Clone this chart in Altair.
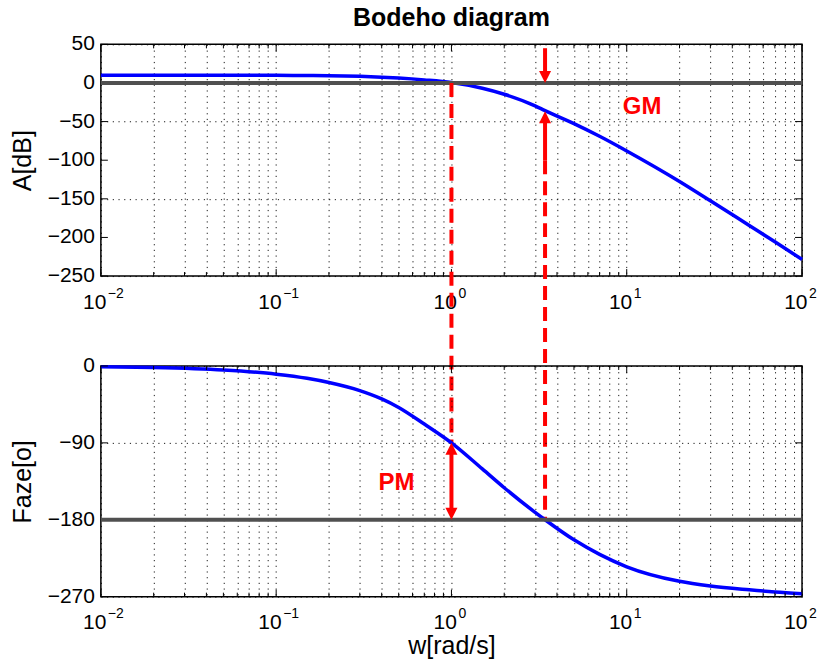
import altair as alt
import pandas as pd

# ---------------- data ----------------
FREQ = [0.01, 0.02, 0.05, 0.1, 0.15, 0.2, 0.3, 0.4, 0.5, 0.7, 1.0, 1.5, 2.0, 3.0, 3.42,
        5.0, 7.0, 10.0, 20.0, 30.0, 50.0, 70.0, 100.0]
MAG_DB = [10.0, 10.0, 10.0, 9.9, 9.7, 9.5, 8.6, 7.5, 6.3, 3.9, 0.5, -6.8, -14.6, -29.6, -35.8,
          -52.6, -69.0, -88.0, -127.5, -152.5, -184.5, -205.6, -228.5]
PHASE_DEG = [-1.0, -1.9, -4.8, -9.6, -14.4, -19.3, -28.8, -38.5, -48.5, -68.0, -90.0, -120.5,
             -142.5, -171.3, -180.0, -203.5, -220.5, -235.0, -252.0, -257.5, -262.0, -264.5, -266.5]

MAJOR_W = [0.01, 0.1, 1.0, 10.0, 100.0]
EXPONENTS = ["\u22122", "\u22121", "0", "1", "2"]
MINOR_W = [round(m * d, 6) for d in [0.01, 0.1, 1, 10] for m in range(2, 10)]
GRID_W = sorted(MAJOR_W + MINOR_W)
MAG_TICKS = [-250, -200, -150, -100, -50, 0, 50]
PHASE_TICKS = [-270, -180, -90, 0]

TITLE = "Bodeho diagram"
W_GC = 1.0          # gain crossover
W_PC = 3.42         # phase crossover
GM_DB = -36.5       # magnitude at phase crossover
PM_PHASE = -90.0    # phase at gain crossover
GM_TOP_DB = 45.0    # start of upper GM arrow
GM_LOW_DB = -100.0  # start of lower GM arrow
GM_LABEL = (12.25, -30.8)
PM_LABEL = (0.486, -136.5)

# ---------------- layout ----------------
FONT = "Liberation Sans"
W, H1, H2, GAP = 702, 232, 231, 90
HEAD_PX = 10
MAJOR_LEN, MINOR_LEN = 7, 4


def top_db_from_px(px):
    return 50 - px / H1 * 300


def px_of_phase(ph):
    return H1 + GAP + (0 - ph) / 270 * H2


head_db = HEAD_PX * 300 / H1
head_deg = HEAD_PX * 270 / H2

xs = alt.Scale(type="log", domain=[0.01, 100], nice=False)
ys_top = alt.Scale(domain=[-250, 50], nice=False, zero=False)
ys_bot = alt.Scale(domain=[-270, 0], nice=False, zero=False)

grid_style = dict(grid=True, gridColor="black", gridDash=[1.2, 4.5], gridOpacity=0.9, gridWidth=1)


def x_axis(title=None):
    kw = dict(values=GRID_W,
              labelExpr="indexof([0.01,0.1,1,10,100], datum.value) >= 0 ? '10' : ''",
              labelAlign="right", labelOffset=5, labelFlush=False, labelOverlap=False,
              labelPadding=15, labelFontSize=21, ticks=False, domain=False, **grid_style)
    if title:
        kw.update(title=title, titleFontSize=25, titleFontWeight="normal",
                  titleBaseline="alphabetic", titleY=57, titleX=W / 2, titleAlign="center")
    else:
        kw.update(title=None)
    return alt.Axis(**kw)


def y_axis(title, values, h):
    return alt.Axis(values=values, labels=False, ticks=False, domain=False,
                    title=title, titleFontSize=25, titleFontWeight="normal",
                    titleBaseline="alphabetic", titleX=-70, titleY=h / 2, titleAlign="center",
                    **grid_style)


def y_labels(ys, yticks):
    d = pd.DataFrame({"v": yticks, "lab": [str(v).replace("-", "\u2212") for v in yticks]})
    return alt.Chart(d).mark_text(align="right", baseline="middle", dx=-6, fontSize=21,
                                  font=FONT, color="black").encode(
        x=alt.value(0), y=alt.Y("v:Q", scale=ys), text="lab:N")


def inner_ticks(ys, yticks, h):
    """Matlab-style inward ticks on all four sides."""
    layers = []
    for vals, ln in ((MAJOR_W, MAJOR_LEN), (MINOR_W, MINOR_LEN)):
        d = pd.DataFrame({"w": vals})
        for y0, y1 in ((0, ln), (h, h - ln)):
            layers.append(alt.Chart(d).mark_rule(color="black", strokeWidth=1).encode(
                x=alt.X("w:Q", scale=xs), y=alt.value(y0), y2=alt.value(y1)))
    d = pd.DataFrame({"v": yticks})
    for x0, x1 in ((0, MAJOR_LEN), (W, W - MAJOR_LEN)):
        layers.append(alt.Chart(d).mark_rule(color="black", strokeWidth=1).encode(
            y=alt.Y("v:Q", scale=ys), x=alt.value(x0), x2=alt.value(x1)))
    return layers


curve = pd.DataFrame({"w": FREQ, "mag": MAG_DB, "phase": PHASE_DEG})
expo = pd.DataFrame({"w": MAJOR_W, "e": EXPONENTS})
shape_scale = alt.Scale(domain=["down", "up"], range=["M0,0L-1,-2L1,-2Z", "M0,0L-1,2L1,2Z"])


def xq():
    return alt.X("w:Q", scale=xs)


# ---------------- top panel ----------------
mag_line = alt.Chart(curve).mark_line(color="#0000ff", strokeWidth=3.5, interpolate="monotone").encode(
    x=alt.X("w:Q", scale=xs, axis=x_axis()),
    y=alt.Y("mag:Q", scale=ys_top, axis=y_axis("A[dB]", MAG_TICKS, H1)),
)
zero_line = alt.Chart(pd.DataFrame({"y": [0]})).mark_rule(color="#505050", strokeWidth=4).encode(
    y=alt.Y("y:Q", scale=ys_top))

dashed = pd.DataFrame({
    "w": [W_GC, W_PC],
    "y": [0.0, GM_LOW_DB],
    "y2": [top_db_from_px(px_of_phase(PM_PHASE)), top_db_from_px(px_of_phase(-180))],
})
dash_rules = alt.Chart(dashed).mark_rule(color="#ff0000", strokeWidth=4, strokeDash=[14, 7]).encode(
    x=xq(), y=alt.Y("y:Q", scale=ys_top), y2="y2:Q")

gm_shafts = pd.DataFrame({
    "w": [W_PC, W_PC],
    "y": [GM_TOP_DB, GM_LOW_DB],
    "y2": [0.0 + head_db, GM_DB - head_db],
})
gm_shaft = alt.Chart(gm_shafts).mark_rule(color="#ff0000", strokeWidth=4).encode(
    x=xq(), y=alt.Y("y:Q", scale=ys_top), y2="y2:Q")

gm_heads = pd.DataFrame({"w": [W_PC, W_PC], "y": [0.0, GM_DB], "dir": ["down", "up"]})
gm_head = alt.Chart(gm_heads).mark_point(filled=True, size=144, color="#ff0000", opacity=1, strokeWidth=0).encode(
    x=xq(), y=alt.Y("y:Q", scale=ys_top),
    shape=alt.Shape("dir:N", scale=shape_scale, legend=None))

gm_text = alt.Chart(pd.DataFrame({"w": [GM_LABEL[0]], "y": [GM_LABEL[1]], "t": ["GM"]})).mark_text(
    color="#ff0000", fontSize=24, fontWeight="bold", font=FONT, align="center", baseline="middle").encode(
    x=xq(), y=alt.Y("y:Q", scale=ys_top), text="t:N")

expo_top = alt.Chart(expo).mark_text(align="left", baseline="alphabetic", dx=7, fontSize=14,
                                     font=FONT, color="black").encode(
    x=xq(), y=alt.value(H1 + 21.5), text="e:N")

title_mark = alt.Chart(pd.DataFrame({"t": [TITLE]})).mark_text(
    fontSize=25, fontWeight="bold", font=FONT, color="black", align="center", baseline="alphabetic").encode(
    x=alt.value(W / 2), y=alt.value(-18), text="t:N")

top = alt.layer(mag_line, *inner_ticks(ys_top, MAG_TICKS, H1), y_labels(ys_top, MAG_TICKS), zero_line,
                dash_rules, gm_shaft, gm_head, gm_text, expo_top, title_mark).properties(width=W, height=H1)

# ---------------- bottom panel ----------------
ph_line = alt.Chart(curve).mark_line(color="#0000ff", strokeWidth=3.5, interpolate="monotone").encode(
    x=alt.X("w:Q", scale=xs, axis=x_axis("w[rad/s]")),
    y=alt.Y("phase:Q", scale=ys_bot, axis=y_axis("Faze[o]", PHASE_TICKS, H2)),
)
m180_line = alt.Chart(pd.DataFrame({"y": [-180]})).mark_rule(color="#505050", strokeWidth=4).encode(
    y=alt.Y("y:Q", scale=ys_bot))

pm_shaft = alt.Chart(pd.DataFrame({"w": [W_GC], "y": [-180 + head_deg], "y2": [PM_PHASE - head_deg]})).mark_rule(
    color="#ff0000", strokeWidth=4).encode(
    x=xq(), y=alt.Y("y:Q", scale=ys_bot), y2="y2:Q")
pm_heads = pd.DataFrame({"w": [W_GC, W_GC], "y": [-180.0, PM_PHASE], "dir": ["down", "up"]})
pm_head = alt.Chart(pm_heads).mark_point(filled=True, size=144, color="#ff0000", opacity=1, strokeWidth=0).encode(
    x=xq(), y=alt.Y("y:Q", scale=ys_bot),
    shape=alt.Shape("dir:N", scale=shape_scale, legend=None))
pm_text = alt.Chart(pd.DataFrame({"w": [PM_LABEL[0]], "y": [PM_LABEL[1]], "t": ["PM"]})).mark_text(
    color="#ff0000", fontSize=24, fontWeight="bold", font=FONT, align="center", baseline="middle").encode(
    x=xq(), y=alt.Y("y:Q", scale=ys_bot), text="t:N")

expo_bot = alt.Chart(expo).mark_text(align="left", baseline="alphabetic", dx=7, fontSize=14,
                                     font=FONT, color="black").encode(
    x=xq(), y=alt.value(H2 + 21.5), text="e:N")

bottom = alt.layer(ph_line, *inner_ticks(ys_bot, PHASE_TICKS, H2), y_labels(ys_bot, PHASE_TICKS), m180_line,
                   pm_shaft, pm_head, pm_text, expo_bot).properties(width=W, height=H2)

chart = alt.vconcat(top, bottom, spacing=GAP, bounds="flush").properties(
    padding={"left": 10, "top": 5, "right": 0, "bottom": 0},
    background="white",
).configure_view(stroke="black", strokeWidth=1.5).configure_axis(
    labelFont=FONT, titleFont=FONT, labelColor="black", titleColor="black", labelOverlap=False
)

chart.save("out.html", embed_options={"renderer": "svg", "actions": False})
